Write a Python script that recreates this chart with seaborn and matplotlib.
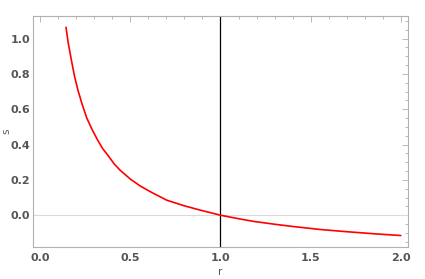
import matplotlib
matplotlib.use("Agg")
import matplotlib.pyplot as plt
import numpy as np
import pandas as pd
import seaborn as sns
from matplotlib.ticker import MultipleLocator

# values
r_vals = [0.143, 0.155, 0.172, 0.19, 0.209, 0.232, 0.258, 0.285, 0.315, 0.345, 0.378, 0.41,
          0.443, 0.5, 0.554, 0.62, 0.702, 0.8, 0.887, 1.0, 1.1, 1.183, 1.3, 1.4, 1.554,
          1.7, 1.85, 2.0]
s_vals = [1.064, 0.978, 0.883, 0.788, 0.709, 0.630, 0.551, 0.491, 0.432, 0.379, 0.336, 0.291,
          0.255, 0.2045, 0.166, 0.128, 0.085, 0.053, 0.029, 0.0, -0.0198, -0.035, -0.0511,
          -0.0637, -0.081, -0.0934, -0.105, -0.115]
x_ticks = [0.0, 0.5, 1.0, 1.5, 2.0]
y_ticks = [0.0, 0.2, 0.4, 0.6, 0.8, 1.0]
marker_r = 1.0

df = pd.DataFrame({"r": r_vals, "s": s_vals})

sns.set_style("white")
plt.rcParams['font.family'] = ['DejaVu Sans']

fig = plt.figure(figsize=(4.25, 2.79), dpi=100)
ax = fig.add_axes([33 / 425, 32 / 279, 375 / 425, 231 / 279])

ax.axhline(0, color='#d9d9d9', lw=0.8, zorder=1)
ax.axvline(marker_r, color='black', lw=0.9, zorder=2)
sns.lineplot(data=df, x="r", y="s", color='red', lw=1.2, ax=ax, zorder=3)

ax.set_xlim(-0.04, 2.04)
ax.set_ylim(-0.18, 1.128)
ax.set_xticks(x_ticks)
ax.set_yticks(y_ticks)
ax.set_xticklabels([f"{t:.1f}" for t in x_ticks])
ax.set_yticklabels([f"{t:.1f}" for t in y_ticks])
ax.xaxis.set_minor_locator(MultipleLocator(0.1))
ax.yaxis.set_minor_locator(MultipleLocator(0.05))

frame_col = '#b0b0b0'
for sp in ax.spines.values():
    sp.set_color(frame_col)
    sp.set_linewidth(0.8)
ax.tick_params(which='both', direction='in', top=True, right=True,
               color=frame_col, width=0.6)
ax.tick_params(which='major', length=4, labelsize=8, labelcolor='#555555')
ax.tick_params(axis='x', which='major', pad=4)
ax.tick_params(axis='y', which='major', pad=2)
ax.tick_params(which='minor', length=2.2)
for lab in ax.get_xticklabels() + ax.get_yticklabels():
    lab.set_fontweight('bold')

ax.set_xlabel("r", fontsize=7.5, color='#555555', labelpad=3)
ax.set_ylabel("s", fontsize=7.5, color='#555555')
ax.yaxis.set_label_coords(-0.058, 0.5)

fig.savefig("out.png", dpi=100)
